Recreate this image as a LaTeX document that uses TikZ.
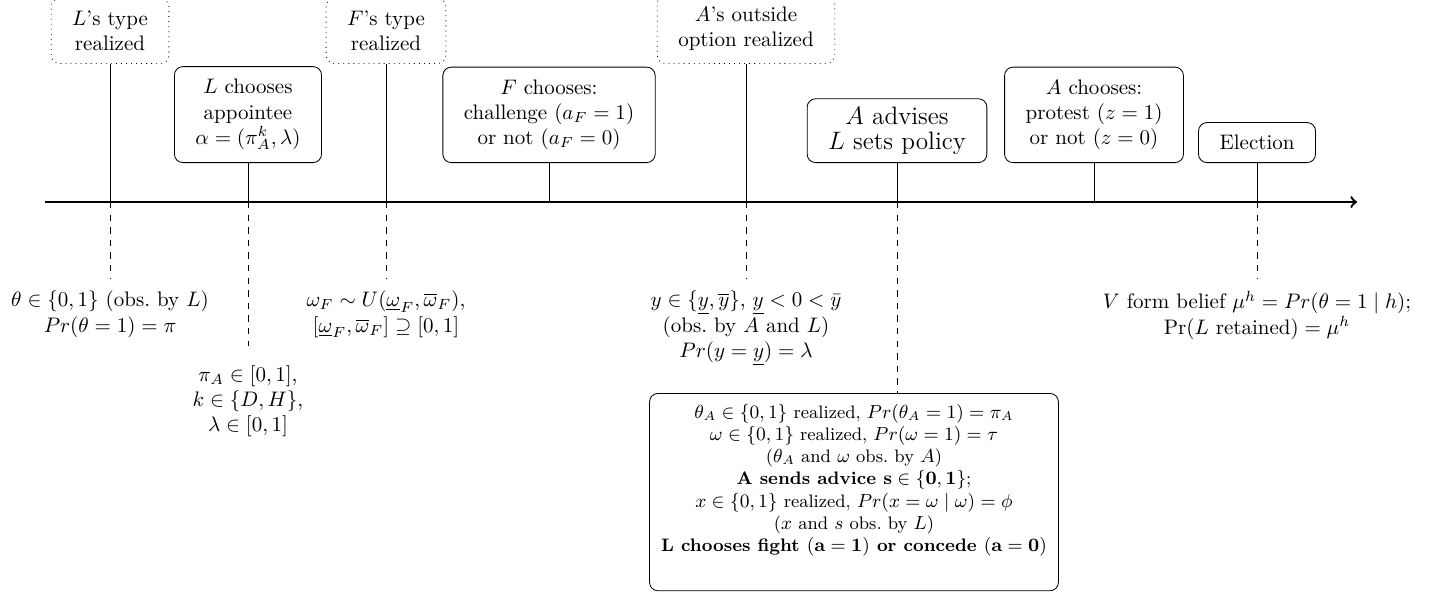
\documentclass[tikz,border=0pt]{standalone}
\usepackage{amsmath,amssymb}
\usetikzlibrary{positioning}

\tikzset{
  move/.style={draw, rounded corners=4pt, align=center, inner xsep=10pt, inner ysep=6pt},
  nature/.style={draw, dotted, rounded corners=4pt, align=center, inner xsep=10pt, inner ysep=6pt},
  info/.style={align=center, inner sep=3pt}
}

\begin{document}
\begin{tikzpicture}
\useasboundingbox (-0.753,-6.561) rectangle (23.430,3.381);

% Time line
\coordinate (start) at (0,0);
\coordinate (stop) at (21.958,0);
\draw[->, line width=1.1pt] (start) -- (stop);

% L's type
\coordinate (t1) at (1.088,0);
\node[nature, anchor=south] (ltype) at (1.088,2.310) {$L$'s type\\realized};
\draw (ltype.south) -- (t1);
\draw[dashed] (t1) -- ++(0,-1.272) coordinate (d1);
\node[info, below=3pt of d1] (lprior)
{$\theta\in\{0,1\}$ (obs.\ by $L$)\\$Pr(\theta=1)=\pi$};

% L appoints
\coordinate (t2) at (3.397,0);
\node[move, anchor=south] (appoint) at (3.397,0.653)
{$L$ chooses\\appointee\\$\alpha=(\pi_A^k,\lambda)$};
\draw (appoint.south) -- (t2);
\draw[dashed] (t2) -- ++(0,-2.410) coordinate (d2);
\node[info, below=6pt of d2] (aprior)
{$\pi_A\in[0,1]$,\\$k\in\{D,H\}$,\\$\lambda\in[0,1]$};

% F's type
\coordinate (t3) at (5.707,0);
\node[nature, anchor=south] (ftype) at (5.707,2.310) {$F$'s type\\realized};
\draw (ftype.south) -- (t3);
\draw[dashed] (t3) -- ++(0,-1.272) coordinate (d3);
\node[info, below=3pt of d3] (fprior)
{$\omega_F\sim U(\underline{\omega}_F,\overline{\omega}_F)$,\\
 $[\underline{\omega}_F,\overline{\omega}_F]\supseteq[0,1]$};

% F challenges
\coordinate (t4) at (8.435,0);
\node[move, anchor=south] (challenge) at (8.435,0.653)
{$F$ chooses:\\challenge ($a_F=1$)\\or not ($a_F=0$)};
\draw (challenge.south) -- (t4);

% A's outside option
\coordinate (t5) at (11.732,0);
\node[nature, anchor=south] (outside) at (11.732,2.310) {$A$'s outside\\option realized};
\draw (outside.south) -- (t5);
\draw[dashed] (t5) -- ++(0,-1.272) coordinate (d5);
\node[info, below=3pt of d5] (yprior)
{$y\in\{\underline{y},\overline{y}\}$, $\underline{y}<0<\bar{y}$\\
 (obs.\ by $A$ and $L$)\\$Pr(y=\underline{y})=\lambda$};

% Advice and policy
\coordinate (t6) at (14.259,0);
\node[move, anchor=south, inner ysep=4pt, font=\fontsize{12}{11.6}\selectfont] (advise) at (14.259,0.653)
{$A$ advises\\$L$ sets policy};
\draw (advise.south) -- (t6);
\node[move, anchor=north, font=\fontsize{8.6}{10.6}\selectfont, inner xsep=5.5pt, inner ysep=5pt] (stage) at (13.539,-3.197)
{$\theta_A\in\{0,1\}$ realized, $Pr(\theta_A=1)=\pi_A$\\
 $\omega\in\{0,1\}$ realized, $Pr(\omega=1)=\tau$\\
 ($\theta_A$ and $\omega$ obs.\ by $A$)\\
 \textbf{A sends advice $\mathbf{s\in\{0,1\}}$};\\
 $x\in\{0,1\}$ realized, $Pr(x=\omega\mid\omega)=\phi$\\
 ($x$ and $s$ obs.\ by $L$)\\
 \textbf{L chooses fight $\mathbf{(a=1)}$ or concede $\mathbf{(a=0)}$}\\[3pt]
 \mbox{}};
\draw[dashed] (t6) -- (t6 |- stage.north);

% A protests
\coordinate (t7) at (17.556,0);
\node[move, anchor=south] (protest) at (17.556,0.653)
{$A$ chooses:\\protest ($z=1$)\\or not ($z=0$)};
\draw (protest.south) -- (t7);

% Election
\coordinate (t8) at (20.284,0);
\node[move, anchor=south] (vote) at (20.284,0.653) {Election};
\draw (vote.south) -- (t8);
\draw[dashed] (t8) -- ++(0,-1.272) coordinate (d8);
\node[info, below=3pt of d8] (belief)
{$V$ form belief $\mu^h=Pr(\theta=1\mid h)$;\\$\Pr(L\text{ retained})=\mu^h$};
\end{tikzpicture}
\end{document}
